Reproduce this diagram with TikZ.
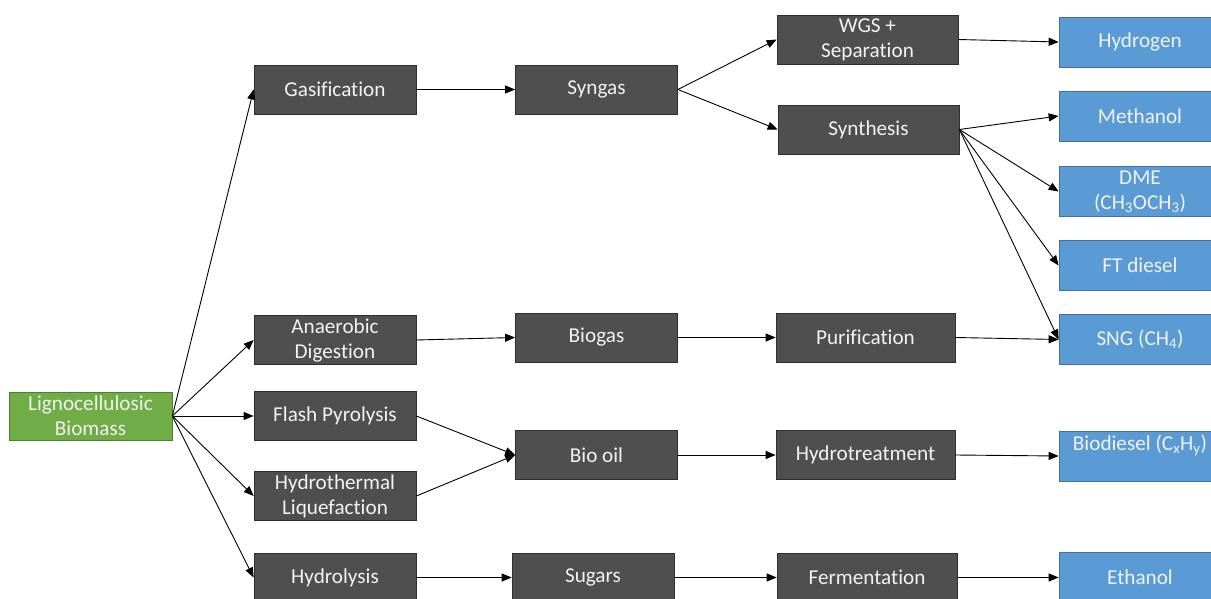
\documentclass[tikz,border=0pt]{standalone}
\usepackage{fontspec}
\setmainfont{Carlito}[Ligatures=NoCommon]
\usetikzlibrary{arrows.meta}

\definecolor{stagegrey}{HTML}{4F4F4F}
\definecolor{stageedge}{HTML}{2F2F2F}
\definecolor{fuelblue}{HTML}{5B9BD5}
\definecolor{fueledge}{HTML}{41719C}
\definecolor{feedgreen}{HTML}{70AD47}
\definecolor{feededge}{HTML}{507E32}

\begin{document}
\begin{tikzpicture}[x=1pt, y=-1pt, line width=0.9pt, >={Triangle[length=10pt,width=8pt]},
  every node/.style={font=\fontsize{21.2}{25}\selectfont, text=white!95!black, align=center, inner sep=0pt, line width=0.7pt, yshift=-1.5pt},
  stage/.style={fill=stagegrey, draw=stageedge, minimum width=162pt, minimum height=49pt},
  fuel/.style={fill=fuelblue, draw=fueledge, minimum width=162pt, minimum height=50pt},
  feed/.style={fill=feedgreen, draw=feededge, minimum width=163pt, minimum height=48pt}]
\useasboundingbox (0,0) rectangle (1211,599);

\node [feed] (biomass) at (90.5,414.5) {Lignocellulosic\\Biomass};

\node [stage] (gasif) at (335,88) {Gasification};
\node [stage] (anaer) at (335,338.5) {Anaerobic\\Digestion};
\node [stage] (flash) at (335,414.5) {Flash Pyrolysis};
\node [stage] (htl) at (335,494.5) {Hydrothermal\\Liquefaction};
\node [stage] (hydrol) at (335,576) {Hydrolysis};

\node [stage] (syngas) at (596.5,88) {Syngas};
\node [stage] (biogas) at (596.5,336) {Biogas};
\node [stage] (biooil) at (596.5,453.5) {Bio oil};
\node [stage] (sugars) at (593,576) {Sugars};

\node [stage, minimum width=181pt] (wgs) at (867.5,38) {WGS +\\Separation};
\node [stage, minimum width=181pt] (synth) at (868.5,128) {Synthesis};
\node [stage, minimum width=179pt] (purif) at (865.5,336) {Purification};
\node [stage, minimum width=179pt] (hydrot) at (865.5,453.5) {Hydrotreatment};
\node [stage, minimum width=180pt] (ferm) at (867,576) {Fermentation};

\node [fuel] (hydrogen) at (1140,40.5) {Hydrogen};
\node [fuel] (methanol) at (1140,114.5) {Methanol};
\node [fuel] (dme) at (1140,190) {DME\\(CH\textsubscript{3}OCH\textsubscript{3})};
\node [fuel] (ftdiesel) at (1140,264) {FT diesel};
\node [fuel] (sng) at (1140,338) {SNG (CH\textsubscript{4})};
\node [fuel] (biodiesel) at (1140,454.5) {Biodiesel (C\textsubscript{x}H\textsubscript{y})\\[2pt]\mbox{}};
\node [fuel] (ethanol) at (1140,576) {Ethanol};

\draw [->] (biomass.east) -- (gasif.west);
\draw [->] (biomass.east) -- (anaer.west);
\draw [->] (biomass.east) -- (flash.west);
\draw [->] (biomass.east) -- (htl.west);
\draw [->] (biomass.east) -- (hydrol.west);

\draw [->] (gasif) -- (syngas);
\draw [->] (syngas.east) -- (wgs.west);
\draw [->] (syngas.east) -- (synth.west);
\draw [->] (wgs.east) -- (hydrogen.west);
\draw [->] (synth.east) -- (methanol.west);
\draw [->] (synth.east) -- (dme.west);
\draw [->] (synth.east) -- (ftdiesel.west);
\draw [->] (synth.east) -- (sng.west);

\draw [->] (anaer.east) -- (biogas.west);
\draw [->] (biogas) -- (purif);
\draw [->] (purif.east) -- (sng.west);

\draw [->] (flash.east) -- (biooil.west);
\draw [->] (htl.east) -- (biooil.west);
\draw [->] (biooil) -- (hydrot);
\draw [->] (hydrot.east) -- (biodiesel.west);

\draw [->] (hydrol) -- (sugars);
\draw [->] (sugars) -- (ferm);
\draw [->] (ferm) -- (ethanol);
\end{tikzpicture}
\end{document}
